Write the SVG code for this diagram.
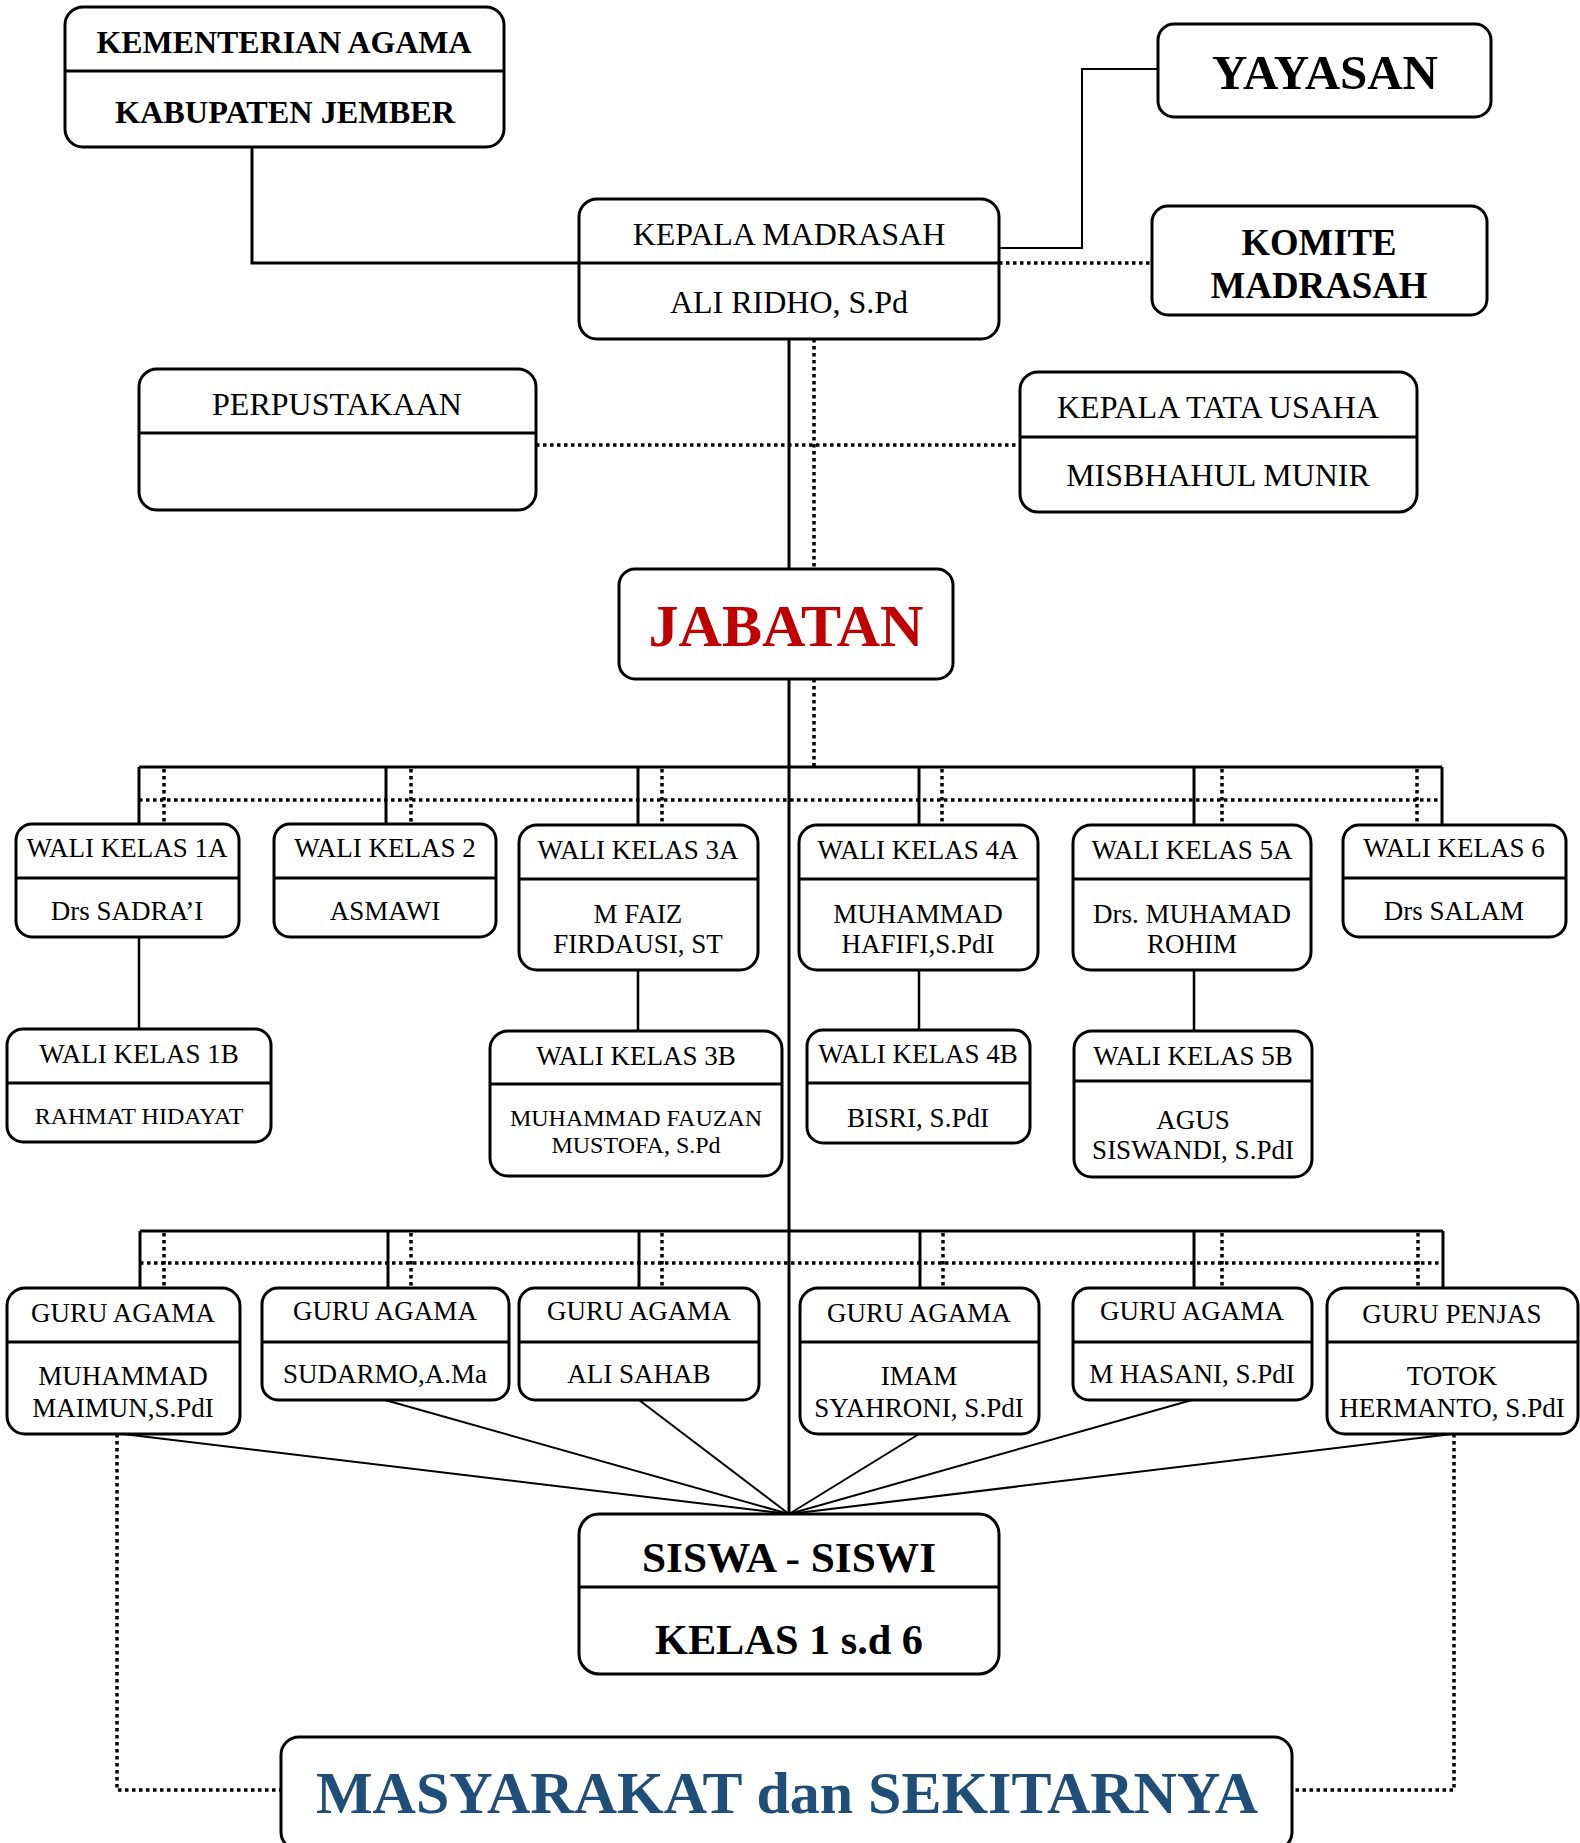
<svg xmlns="http://www.w3.org/2000/svg" width="1580" height="1843" viewBox="0 0 1580 1843">
<style>
.box{fill:#fff;stroke:#000;stroke-width:3}
.dv{stroke:#000;stroke-width:3}
.t{font-family:"Liberation Serif","Times New Roman",serif;text-anchor:middle;fill:#000}
.b{font-weight:bold}
.s32{font-size:32px}
.s26{font-size:27px}
.s24{font-size:24px}
.ln{stroke:#000;stroke-width:3;fill:none}
.thin{stroke:#000;stroke-width:2;fill:none}
.dot{stroke:#000;stroke-width:3.5;stroke-dasharray:3.5 3.5;fill:none}
</style>
<rect width="1580" height="1843" fill="#fff"/>
<g id="connectors">
  <polyline class="ln" points="252,147 252,263 579,263"/>
  <polyline class="thin" points="1158,69 1082,69 1082,248 999,248"/>
  <line class="dot" x1="999" y1="263" x2="1152" y2="263"/>
  <line class="ln" x1="789" y1="339" x2="789" y2="569"/>
  <line class="ln" x1="789" y1="679" x2="789" y2="1514"/>
  <line class="dot" x1="814" y1="339" x2="814" y2="569"/>
  <line class="dot" x1="814" y1="679" x2="814" y2="767"/>
  <line class="dot" x1="536" y1="445" x2="1020" y2="445"/>
  <line class="ln" x1="139" y1="767" x2="1442" y2="767"/>
  <line class="dot" x1="139" y1="800" x2="1442" y2="800"/>
  <g class="ln">
    <line x1="139" y1="767" x2="139" y2="824"/>
    <line x1="386" y1="767" x2="386" y2="824"/>
    <line x1="638" y1="767" x2="638" y2="825"/>
    <line x1="919" y1="767" x2="919" y2="825"/>
    <line x1="1194" y1="767" x2="1194" y2="825"/>
    <line x1="1442" y1="767" x2="1442" y2="825"/>
  </g>
  <g class="dot">
    <line x1="164" y1="769" x2="164" y2="824"/>
    <line x1="411" y1="769" x2="411" y2="824"/>
    <line x1="662" y1="769" x2="662" y2="825"/>
    <line x1="942" y1="769" x2="942" y2="825"/>
    <line x1="1222" y1="769" x2="1222" y2="825"/>
    <line x1="1417" y1="769" x2="1417" y2="825"/>
  </g>
  <g class="thin" style="stroke-width:2.5">
    <line x1="139" y1="937" x2="139" y2="1029"/>
    <line x1="638" y1="970" x2="638" y2="1031"/>
    <line x1="919" y1="970" x2="919" y2="1030"/>
    <line x1="1194" y1="970" x2="1194" y2="1031"/>
  </g>
  <line class="ln" x1="140" y1="1231" x2="1443" y2="1231"/>
  <line class="dot" x1="140" y1="1263" x2="1443" y2="1263"/>
  <g class="ln">
    <line x1="140" y1="1231" x2="140" y2="1288"/>
    <line x1="388" y1="1231" x2="388" y2="1288"/>
    <line x1="639" y1="1231" x2="639" y2="1288"/>
    <line x1="920" y1="1231" x2="920" y2="1288"/>
    <line x1="1194" y1="1231" x2="1194" y2="1288"/>
    <line x1="1443" y1="1231" x2="1443" y2="1288"/>
  </g>
  <g class="dot">
    <line x1="164" y1="1233" x2="164" y2="1288"/>
    <line x1="411" y1="1233" x2="411" y2="1288"/>
    <line x1="662" y1="1233" x2="662" y2="1288"/>
    <line x1="943" y1="1233" x2="943" y2="1288"/>
    <line x1="1222" y1="1233" x2="1222" y2="1288"/>
    <line x1="1418" y1="1233" x2="1418" y2="1288"/>
  </g>
  <g class="thin">
    <line x1="123" y1="1434" x2="789" y2="1514"/>
    <line x1="385" y1="1400" x2="789" y2="1514"/>
    <line x1="639" y1="1400" x2="789" y2="1514"/>
    <line x1="919" y1="1434" x2="789" y2="1514"/>
    <line x1="1192" y1="1400" x2="789" y2="1514"/>
    <line x1="1452" y1="1434" x2="789" y2="1514"/>
  </g>
  <polyline class="dot" points="117,1434 117,1790 281,1790"/>
  <polyline class="dot" points="1454,1434 1454,1790 1292,1790"/>
</g>

<g id="kemenag">
  <rect class="box" x="65" y="7" width="439" height="140" rx="18"/>
  <line class="dv" x1="65" y1="71" x2="504" y2="71"/>
  <text class="t b" x="284" y="53" font-size="32" textLength="375" lengthAdjust="spacingAndGlyphs">KEMENTERIAN AGAMA</text>
  <text class="t b" x="285" y="123" font-size="32" textLength="340" lengthAdjust="spacingAndGlyphs">KABUPATEN JEMBER</text>
</g>
<g id="yayasan">
  <rect class="box" x="1158" y="24" width="333" height="93" rx="16"/>
  <text class="t b" x="1325" y="89" font-size="49" textLength="226" lengthAdjust="spacingAndGlyphs">YAYASAN</text>
</g>
<g id="kepala">
  <rect class="box" x="579" y="199" width="420" height="140" rx="18"/>
  <line class="dv" x1="579" y1="263" x2="999" y2="263"/>
  <text class="t s32" x="789" y="245">KEPALA MADRASAH</text>
  <text class="t s32" x="789" y="313">ALI RIDHO, S.Pd</text>
</g>
<g id="komite">
  <rect class="box" x="1152" y="206" width="335" height="109" rx="16"/>
  <text class="t b" x="1319" y="255" font-size="37" textLength="155" lengthAdjust="spacingAndGlyphs">KOMITE</text>
  <text class="t b" x="1319" y="298" font-size="37" textLength="217" lengthAdjust="spacingAndGlyphs">MADRASAH</text>
</g>
<g id="perpustakaan">
  <rect class="box" x="139" y="369" width="397" height="141" rx="18"/>
  <line class="dv" x1="139" y1="433" x2="536" y2="433"/>
  <text class="t s32" x="337" y="415">PERPUSTAKAAN</text>
</g>
<g id="tatausaha">
  <rect class="box" x="1020" y="372" width="397" height="140" rx="18"/>
  <line class="dv" x1="1020" y1="437" x2="1417" y2="437"/>
  <text class="t s32" x="1218" y="418">KEPALA TATA USAHA</text>
  <text class="t s32" x="1218" y="486">MISBHAHUL MUNIR</text>
</g>
<g id="jabatan">
  <rect class="box" x="619" y="569" width="334" height="110" rx="16"/>
  <text class="t b" x="786" y="646" font-size="59" textLength="275" lengthAdjust="spacingAndGlyphs" style="fill:#C00000">JABATAN</text>
</g>

<g id="wk1a">
  <rect class="box" x="16" y="824" width="223" height="113" rx="16"/>
  <line class="dv" x1="16" y1="878" x2="239" y2="878"/>
  <text class="t s26" x="127" y="857">WALI KELAS 1A</text>
  <text class="t s26" x="127" y="920">Drs SADRA’I</text>
</g>
<g id="wk2">
  <rect class="box" x="274" y="824" width="222" height="113" rx="16"/>
  <line class="dv" x1="274" y1="878" x2="496" y2="878"/>
  <text class="t s26" x="385" y="857">WALI KELAS 2</text>
  <text class="t s26" x="385" y="920">ASMAWI</text>
</g>
<g id="wk3a">
  <rect class="box" x="519" y="825" width="239" height="145" rx="18"/>
  <line class="dv" x1="519" y1="879" x2="758" y2="879"/>
  <text class="t s26" x="638" y="859">WALI KELAS 3A</text>
  <text class="t s26" x="638" y="923">M FAIZ</text>
  <text class="t s26" x="638" y="953">FIRDAUSI, ST</text>
</g>
<g id="wk4a">
  <rect class="box" x="799" y="825" width="239" height="145" rx="18"/>
  <line class="dv" x1="799" y1="879" x2="1038" y2="879"/>
  <text class="t s26" x="918" y="859">WALI KELAS 4A</text>
  <text class="t s26" x="918" y="923">MUHAMMAD</text>
  <text class="t s26" x="918" y="953">HAFIFI,S.PdI</text>
</g>
<g id="wk5a">
  <rect class="box" x="1073" y="825" width="238" height="145" rx="18"/>
  <line class="dv" x1="1073" y1="879" x2="1311" y2="879"/>
  <text class="t s26" x="1192" y="859">WALI KELAS 5A</text>
  <text class="t s26" x="1192" y="923">Drs. MUHAMAD</text>
  <text class="t s26" x="1192" y="953">ROHIM</text>
</g>
<g id="wk6">
  <rect class="box" x="1343" y="825" width="223" height="112" rx="16"/>
  <line class="dv" x1="1343" y1="878" x2="1566" y2="878"/>
  <text class="t s26" x="1454" y="857">WALI KELAS 6</text>
  <text class="t s26" x="1454" y="920">Drs SALAM</text>
</g>
<g id="wk1b">
  <rect class="box" x="7" y="1029" width="264" height="113" rx="16"/>
  <line class="dv" x1="7" y1="1083" x2="271" y2="1083"/>
  <text class="t s26" x="139" y="1063">WALI KELAS 1B</text>
  <text class="t s24" x="139" y="1124">RAHMAT HIDAYAT</text>
</g>
<g id="wk3b">
  <rect class="box" x="490" y="1031" width="292" height="145" rx="18"/>
  <line class="dv" x1="490" y1="1084" x2="782" y2="1084"/>
  <text class="t s26" x="636" y="1065">WALI KELAS 3B</text>
  <text class="t s24" x="636" y="1126">MUHAMMAD FAUZAN</text>
  <text class="t s24" x="636" y="1153">MUSTOFA, S.Pd</text>
</g>
<g id="wk4b">
  <rect class="box" x="807" y="1030" width="223" height="113" rx="16"/>
  <line class="dv" x1="807" y1="1083" x2="1030" y2="1083"/>
  <text class="t s26" x="918" y="1063">WALI KELAS 4B</text>
  <text class="t s26" x="918" y="1127">BISRI, S.PdI</text>
</g>
<g id="wk5b">
  <rect class="box" x="1074" y="1031" width="238" height="146" rx="18"/>
  <line class="dv" x1="1074" y1="1081" x2="1312" y2="1081"/>
  <text class="t s26" x="1193" y="1065">WALI KELAS 5B</text>
  <text class="t s26" x="1193" y="1129">AGUS</text>
  <text class="t s26" x="1193" y="1159">SISWANDI, S.PdI</text>
</g>

<g id="guru1">
  <rect class="box" x="7" y="1288" width="233" height="146" rx="18"/>
  <line class="dv" x1="7" y1="1342" x2="240" y2="1342"/>
  <text class="t s26" x="123" y="1322">GURU AGAMA</text>
  <text class="t s26" x="123" y="1385">MUHAMMAD</text>
  <text class="t s26" x="123" y="1417">MAIMUN,S.PdI</text>
</g>
<g id="guru2">
  <rect class="box" x="262" y="1288" width="247" height="112" rx="16"/>
  <line class="dv" x1="262" y1="1342" x2="509" y2="1342"/>
  <text class="t s26" x="385" y="1320">GURU AGAMA</text>
  <text class="t s26" x="385" y="1383">SUDARMO,A.Ma</text>
</g>
<g id="guru3">
  <rect class="box" x="519" y="1288" width="240" height="112" rx="16"/>
  <line class="dv" x1="519" y1="1342" x2="759" y2="1342"/>
  <text class="t s26" x="639" y="1320">GURU AGAMA</text>
  <text class="t s26" x="639" y="1383">ALI SAHAB</text>
</g>
<g id="guru4">
  <rect class="box" x="800" y="1288" width="239" height="146" rx="18"/>
  <line class="dv" x1="800" y1="1342" x2="1039" y2="1342"/>
  <text class="t s26" x="919" y="1322">GURU AGAMA</text>
  <text class="t s26" x="919" y="1385">IMAM</text>
  <text class="t s26" x="919" y="1417">SYAHRONI, S.PdI</text>
</g>
<g id="guru5">
  <rect class="box" x="1073" y="1288" width="239" height="112" rx="16"/>
  <line class="dv" x1="1073" y1="1342" x2="1312" y2="1342"/>
  <text class="t s26" x="1192" y="1320">GURU AGAMA</text>
  <text class="t s26" x="1192" y="1383">M HASANI, S.PdI</text>
</g>
<g id="guru6">
  <rect class="box" x="1327" y="1288" width="251" height="146" rx="18"/>
  <line class="dv" x1="1327" y1="1342" x2="1578" y2="1342"/>
  <text class="t s26" x="1452" y="1323">GURU PENJAS</text>
  <text class="t s26" x="1452" y="1385">TOTOK</text>
  <text class="t s26" x="1452" y="1417">HERMANTO, S.PdI</text>
</g>

<g id="siswa">
  <rect class="box" x="579" y="1514" width="420" height="160" rx="20"/>
  <line class="dv" x1="579" y1="1587" x2="999" y2="1587"/>
  <text class="t b" x="789" y="1572" font-size="43" textLength="294" lengthAdjust="spacingAndGlyphs">SISWA - SISWI</text>
  <text class="t b" x="789" y="1654" font-size="42" textLength="268" lengthAdjust="spacingAndGlyphs">KELAS 1 s.d 6</text>
</g>
<g id="masyarakat">
  <rect class="box" x="281" y="1737" width="1011" height="113" rx="18"/>
  <text class="t b" x="787" y="1813" font-size="59" textLength="942" lengthAdjust="spacingAndGlyphs" style="fill:#1F4E79">MASYARAKAT dan SEKITARNYA</text>
</g>
</svg>
